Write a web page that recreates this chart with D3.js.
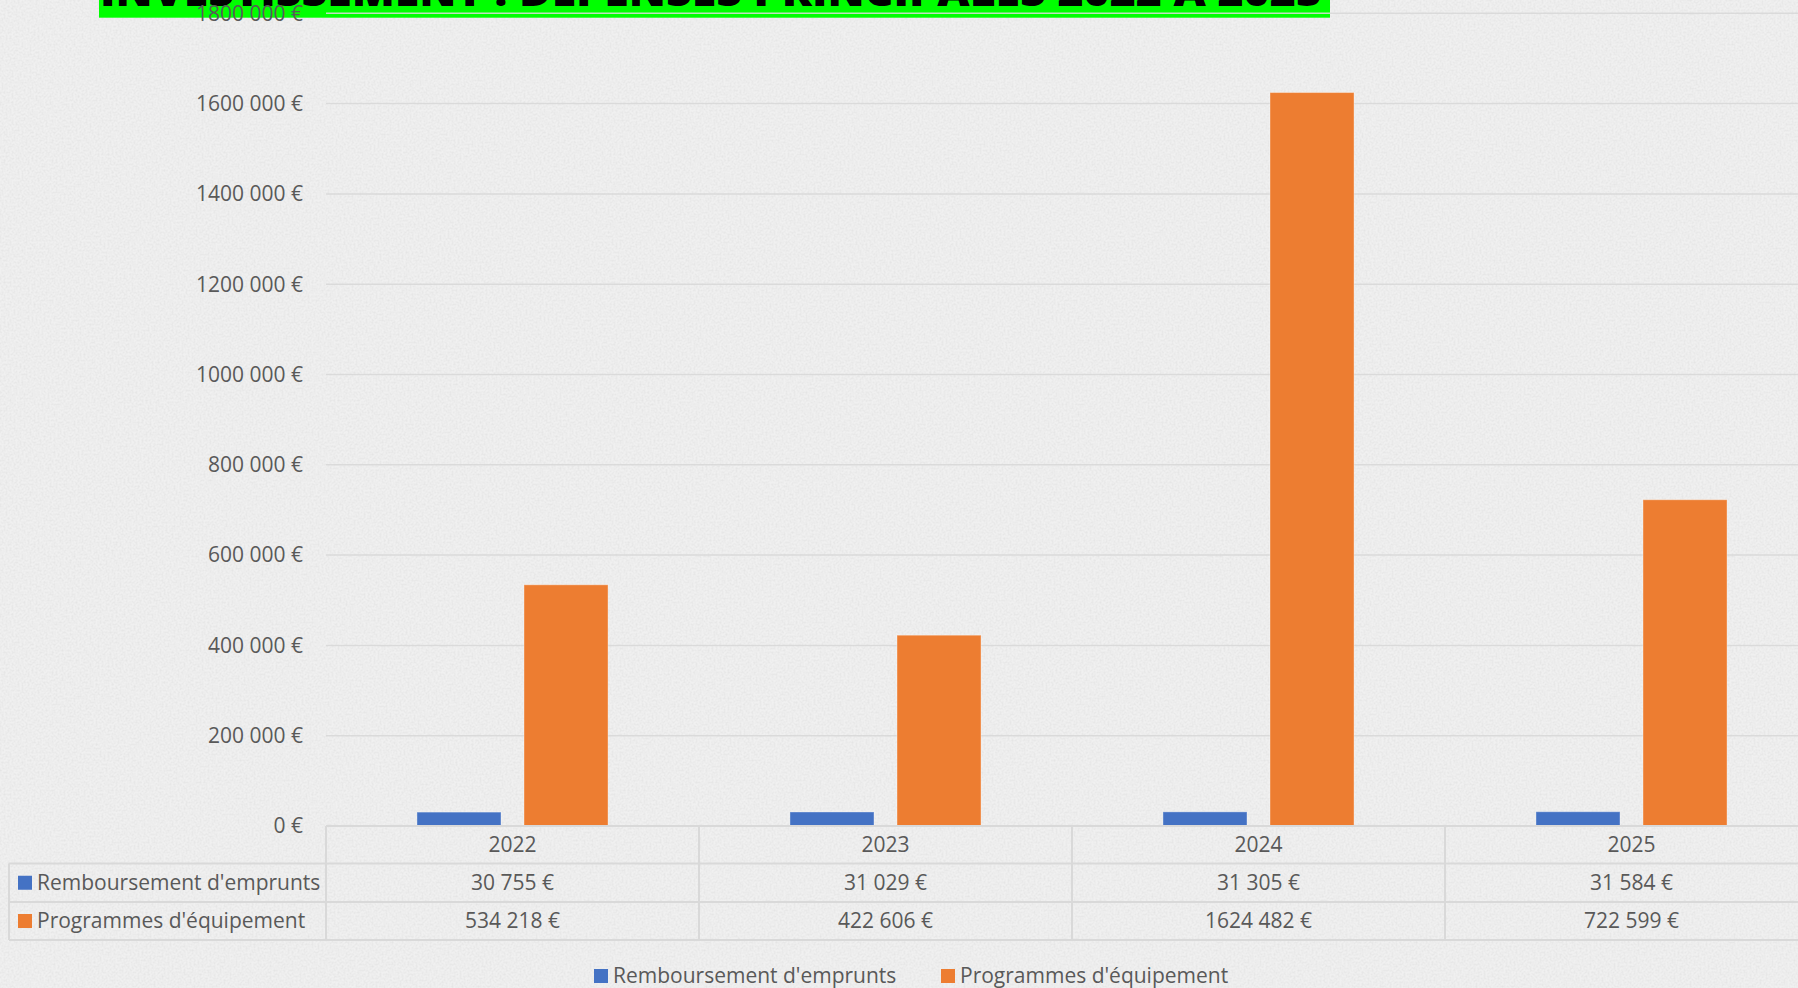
<!DOCTYPE html>
<html>
<head>
<meta charset="utf-8">
<script src="https://cdn.jsdelivr.net/npm/d3@7"></script>
<style>
  html, body { margin: 0; padding: 0; background: #ececec; overflow: hidden; }
  svg { display: block; }
</style>
</head>
<body>
<script>
const years = ["2022", "2023", "2024", "2025"];
const seriesNames = ["Remboursement d'emprunts", "Programmes d'équipement"];
const remboursement = [30755, 31029, 31305, 31584];
const programmes = [534218, 422606, 1624482, 722599];
const yTicks = [0, 200000, 400000, 600000, 800000, 1000000, 1200000, 1400000, 1600000, 1800000];
const colors = ["#4472C4", "#ED7D31"];
const title = "INVESTISSEMENT : DEPENSES PRINCIPALES 2022 A 2025";

const W = 1798, H = 988;
const font = "'Open Sans', 'Liberation Sans', sans-serif";
const textColor = "#595959";
const lineColor = "#d9d9d9";

const fmt = v => {
  if (v < 1000) return v + " €";
  const th = Math.floor(v / 1000), rest = v % 1000;
  return th + " " + String(rest).padStart(3, "0") + " €";
};

const svg = d3.select("body").append("svg").attr("width", W).attr("height", H);

// background with paper texture
const defs = svg.append("defs");
const f = defs.append("filter").attr("id", "paper").attr("x", 0).attr("y", 0).attr("width", "100%").attr("height", "100%");
f.append("feTurbulence").attr("type", "fractalNoise").attr("baseFrequency", 0.5).attr("numOctaves", 4).attr("seed", 4).attr("result", "n");
f.append("feColorMatrix").attr("in", "n").attr("type", "matrix")
  .attr("values", "0 0 0 0 0.5  0 0 0 0 0.5  0 0 0 0 0.5  1.4 0 0 0 -0.5");
svg.append("rect").attr("width", W).attr("height", H).attr("fill", "#f0f0f0");
svg.append("rect").attr("width", W).attr("height", H).attr("fill", "#fff").attr("filter", "url(#paper)").attr("opacity", 0.3);

const plotLeft = 326, band = 373;
const x = d3.scaleBand().domain(years).range([plotLeft, plotLeft + band * years.length]).padding(0);
const x1 = d3.scaleBand().domain(seriesNames).range([0, x.bandwidth()]).paddingInner(0.215).paddingOuter(0.85);
const y = d3.scaleLinear().domain([0, 1800000]).range([826, 13.3]);

// title box (clipped at top)
svg.append("rect").attr("x", 99).attr("y", -40).attr("width", 1231).attr("height", 57.7).attr("fill", "#00ff00");
svg.append("text").attr("x", 100).attr("y", 6).attr("textLength", 1222).attr("lengthAdjust", "spacingAndGlyphs")
  .attr("font-family", font).attr("font-weight", 800).attr("font-size", 40).attr("fill", "#000").text(title);

// gridlines
svg.append("g").selectAll("line").data(yTicks).join("line")
  .attr("x1", plotLeft).attr("x2", x.range()[1])
  .attr("y1", d => y(d)).attr("y2", d => y(d))
  .attr("stroke", lineColor).attr("stroke-width", 1.5).attr("opacity", 0.9);

// y labels
svg.append("g").selectAll("text").data(yTicks).join("text")
  .attr("x", 303).attr("y", d => y(d)).attr("dy", "0.35em")
  .attr("text-anchor", "end").attr("font-family", font).attr("font-size", 21).attr("fill", textColor)
  .text(d => fmt(d));

// bars
const seriesData = [remboursement, programmes];
seriesNames.forEach((s, si) => {
  svg.append("g").selectAll("rect").data(years).join("rect")
    .attr("x", (d) => x(d) + x1(s))
    .attr("width", x1.bandwidth())
    .attr("y", (d, i) => y(seriesData[si][i]))
    .attr("height", (d, i) => y(0) - y(seriesData[si][i]))
    .attr("fill", colors[si])
    .attr("stroke", "#ffffff").attr("stroke-opacity", 0.35).attr("stroke-width", 1);
});

// data table
const rowY = [826, 863.5, 902, 940];
const tableLeft = 9, tableRight = x.range()[1];
const tg = svg.append("g");
tg.append("line").attr("x1", plotLeft).attr("x2", tableRight).attr("y1", rowY[0]).attr("y2", rowY[0])
  .attr("stroke", lineColor).attr("stroke-width", 2);
[rowY[1], rowY[2], rowY[3]].forEach(yy => {
  tg.append("line").attr("x1", tableLeft).attr("x2", tableRight).attr("y1", yy).attr("y2", yy)
    .attr("stroke", lineColor).attr("stroke-width", 2);
});
tg.append("line").attr("x1", tableLeft).attr("x2", tableLeft).attr("y1", rowY[1]).attr("y2", rowY[3])
  .attr("stroke", lineColor).attr("stroke-width", 2);
const bounds = years.map(d => x(d)).concat([tableRight]);
tg.selectAll("line.v").data(bounds).join("line").attr("class", "v")
  .attr("x1", d => d).attr("x2", d => d).attr("y1", rowY[0]).attr("y2", rowY[3])
  .attr("stroke", lineColor).attr("stroke-width", 2);

const mid = (a, b) => (a + b) / 2;
// header years
tg.selectAll("text.yr").data(years).join("text").attr("class", "yr")
  .attr("x", d => x(d) + x.bandwidth() / 2).attr("y", mid(rowY[0], rowY[1])).attr("dy", "0.35em")
  .attr("text-anchor", "middle").attr("font-family", font).attr("font-size", 21).attr("fill", textColor)
  .text(d => d);
seriesNames.forEach((s, si) => {
  const cy = mid(rowY[si + 1], rowY[si + 2]);
  tg.append("rect").attr("x", 18).attr("y", cy - 7).attr("width", 14).attr("height", 14).attr("fill", colors[si]);
  tg.append("text").attr("x", 37).attr("y", cy).attr("dy", "0.35em")
    .attr("font-family", font).attr("font-size", 21).attr("fill", textColor).text(s);
  tg.selectAll("text.v" + si).data(years).join("text").attr("class", "v" + si)
    .attr("x", d => x(d) + x.bandwidth() / 2).attr("y", cy).attr("dy", "0.35em")
    .attr("text-anchor", "middle").attr("font-family", font).attr("font-size", 21).attr("fill", textColor)
    .text((d, i) => fmt(seriesData[si][i]));
});

// bottom legend
const legX = [594, 941];
const lg = svg.append("g");
seriesNames.forEach((s, si) => {
  lg.append("rect").attr("x", legX[si]).attr("y", 976 - 7).attr("width", 14).attr("height", 14).attr("fill", colors[si]);
  lg.append("text").attr("x", legX[si] + 19).attr("y", 976).attr("dy", "0.35em")
    .attr("font-family", font).attr("font-size", 21).attr("fill", textColor).text(s);
});
</script>
</body>
</html>
